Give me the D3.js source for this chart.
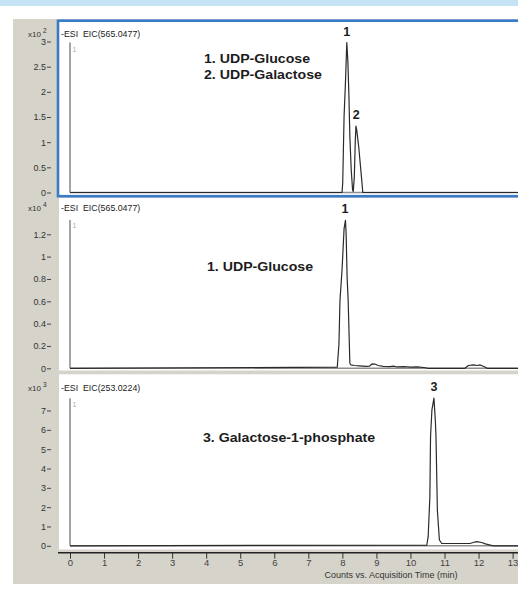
<!DOCTYPE html>
<html>
<head>
<meta charset="utf-8">
<script src="https://cdn.jsdelivr.net/npm/d3@7"></script>
<style>
  body { margin: 0; background: #fff; }
  svg { display: block; font-family: "Liberation Sans", Arial, sans-serif; }
</style>
</head>
<body>
<div id="chart"></div>
<script>
// acquisition time axis
var timeTicks = [0, 1, 2, 3, 4, 5, 6, 7, 8, 9, 10, 11, 12, 13];

// EIC 565.0477, standard mix (x10^2 counts)
var mixTime   = [0, 7.99, 8.01, 8.05, 8.09, 8.13, 8.16, 8.19, 8.22, 8.26, 8.30, 8.32, 8.35, 8.38, 8.40, 8.42, 8.48, 8.55, 8.60, 13.5];
var mixCounts = [0, 0, 0.19, 1.51, 2.17, 2.98, 2.63, 1.98, 1.11, 0.45, 0.05, 0.02, 0.30, 1.04, 1.32, 1.25, 0.91, 0.39, 0, 0];

// EIC 565.0477, sample (x10^4 counts)
var glcTime   = [0, 7.85, 7.90, 7.93, 7.99, 8.05, 8.09, 8.11, 8.14, 8.17, 8.22, 8.25, 8.35, 8.5, 8.7, 8.8, 8.88, 8.95, 9.05, 9.2, 9.4, 9.5, 9.6, 9.8, 10.0, 10.2, 10.45, 10.5, 11.6, 11.7, 11.85, 11.95, 12.05, 12.2, 12.25, 13.5];
var glcCounts = [0, 0.01, 0.22, 0.61, 0.88, 1.25, 1.325, 1.21, 0.81, 0.61, 0.045, 0.03, 0.025, 0.022, 0.018, 0.02, 0.04, 0.038, 0.025, 0.018, 0.015, 0.02, 0.012, 0.015, 0.01, 0.012, 0.005, 0, 0, 0.025, 0.03, 0.025, 0.03, 0.01, 0, 0];

// EIC 253.0224 (x10^3 counts)
var galTime   = [0, 10.48, 10.52, 10.57, 10.59, 10.63, 10.69, 10.73, 10.75, 10.79, 10.85, 10.92, 11.75, 11.84, 11.95, 12.09, 12.2, 12.43, 13.5];
var galCounts = [0, 0.04, 0.47, 2.54, 5.65, 7.03, 7.64, 6.51, 5.65, 1.85, 0.30, 0.12, 0.12, 0.17, 0.22, 0.17, 0.10, 0, 0];

var width = 518, height = 602;

var svg = d3.select("#chart").append("svg")
    .attr("width", width)
    .attr("height", height);

// window chrome
svg.append("rect").attr("x", 0).attr("y", 0).attr("width", width).attr("height", 6).attr("fill", "#c6e2f5");
svg.append("rect").attr("x", 13).attr("y", 19).attr("width", width - 13).attr("height", 565).attr("fill", "#d6d3cb");

var x = d3.scaleLinear().domain([0, 13]).range([70, 512.6]);

var panels = [
  { top: 20.7, bottom: 196.2, exp: "2", eic: "-ESI  EIC(565.0477)", yTop: 41.5, yBottom: 192.5, max: 3, ticks: [0, 0.5, 1, 1.5, 2, 2.5, 3], axisTop: 42.5,
    time: mixTime, counts: mixCounts, header: 36.5, marker: 52,
    names: ["1. UDP-Glucose", "2. UDP-Galactose"], nameX: 204, nameY: [62.5, 79.3],
    peaks: [{ t: 8.13, v: 2.98, label: "1" }, { t: 8.405, v: 1.32, label: "2" }] },
  { top: 198, bottom: 370.5, exp: "4", eic: "-ESI  EIC(565.0477)", yTop: 234.3, yBottom: 368.3, max: 1.2, ticks: [0, 0.2, 0.4, 0.6, 0.8, 1, 1.2], axisTop: 220,
    time: glcTime, counts: glcCounts, header: 210.7, marker: 228,
    names: ["1. UDP-Glucose"], nameX: 207, nameY: [270.7],
    peaks: [{ t: 8.08, v: 1.325, label: "1" }] },
  { top: 374.3, bottom: 549.5, exp: "3", eic: "-ESI  EIC(253.0224)", yTop: 410.5, yBottom: 545.8, max: 7, ticks: [0, 1, 2, 3, 4, 5, 6, 7], axisTop: 398.3,
    time: galTime, counts: galCounts, header: 390.7, marker: 406.5,
    names: ["3. Galactose-1-phosphate"], nameX: 203, nameY: [441.7],
    peaks: [{ t: 10.69, v: 7.64, label: "3" }] }
];

panels.forEach(function(p, i) {
  var g = svg.append("g");

  if (i > 0) {
    g.append("rect").attr("x", 59).attr("y", p.top).attr("width", width - 59).attr("height", p.bottom - p.top).attr("fill", "#fff");
  } else {
    g.append("rect").attr("x", 58).attr("y", p.top).attr("width", width).attr("height", p.bottom - p.top)
      .attr("fill", "#fff").attr("stroke", "#3a7bc8").attr("stroke-width", 2.6);
  }

  var y = d3.scaleLinear().domain([0, p.max]).range([p.yBottom, p.yTop]);

  // axis frame lines inside the plot
  g.append("line").attr("x1", 70).attr("x2", width).attr("y1", y(0)).attr("y2", y(0))
    .attr("stroke", "#8e8e8e").attr("stroke-width", 1.6);
  g.append("line").attr("x1", 70).attr("x2", 70).attr("y1", p.axisTop).attr("y2", y(0))
    .attr("stroke", "#8e8e8e").attr("stroke-width", 1.6);

  var yAxis = g.append("g")
    .attr("transform", "translate(51,0)")
    .call(d3.axisLeft(y).tickValues(p.ticks).tickSize(4).tickPadding(1)
      .tickFormat(function(d) { return d3.format("")(d); }));
  yAxis.select(".domain").remove();
  yAxis.selectAll("line").attr("stroke", "#444");
  yAxis.selectAll("text").attr("font-size", 9).attr("fill", "#333")
    .attr("font-family", "'Liberation Sans', Arial, sans-serif");

  // header labels
  var mult = g.append("text").attr("x", 28).attr("y", p.header).attr("font-size", 8).attr("fill", "#333");
  mult.append("tspan").text("x10");
  mult.append("tspan").attr("dx", 2).attr("dy", -3.5).attr("font-size", 6.5).text(p.exp);
  g.append("text").attr("x", 61).attr("y", p.header).attr("font-size", 8.8).attr("fill", "#222")
    .style("white-space", "pre").attr("xml:space", "preserve").text(p.eic);
  g.append("text").attr("x", 72.5).attr("y", p.marker).attr("font-size", 7).attr("fill", "#aaa").text("1");

  // trace
  var clipId = "clip" + i;
  svg.append("clipPath").attr("id", clipId).append("rect")
    .attr("x", 60).attr("y", p.top - 30).attr("width", width).attr("height", p.bottom - p.top + 30);

  var pts = p.time.map(function(t, k) { return [t, p.counts[k]]; });
  g.append("path")
    .datum(pts)
    .attr("clip-path", "url(#" + clipId + ")")
    .attr("fill", "none")
    .attr("stroke", "#2a2a2a")
    .attr("stroke-width", 1.2)
    .attr("stroke-linejoin", "round")
    .attr("d", d3.line()
      .x(function(d) { return x(d[0]); })
      .y(function(d) { return y(d[1]); }));

  // peak numbers
  p.peaks.forEach(function(pk) {
    g.append("text").attr("x", x(pk.t)).attr("y", y(pk.v) - 7)
      .attr("text-anchor", "middle").attr("font-size", 12.5).attr("font-weight", "bold").attr("fill", "#1c1c1c")
      .text(pk.label);
  });

  // compound names
  p.names.forEach(function(n, k) {
    g.append("g").attr("transform", "translate(" + p.nameX + "," + p.nameY[k] + ") scale(1.18,1)")
      .append("text").attr("font-size", 12).attr("font-weight", "bold").attr("fill", "#1c1c1c").text(n);
  });
});

// shared time axis
var xAxis = svg.append("g")
  .attr("transform", "translate(0,552.7)")
  .call(d3.axisBottom(x).tickValues(timeTicks).tickSize(6).tickPadding(1).tickFormat(d3.format("d")));
xAxis.select(".domain").remove();
xAxis.selectAll("line").attr("stroke", "#333");
xAxis.selectAll("text").attr("font-size", 9.5).attr("fill", "#444")
  .attr("font-family", "'Liberation Sans', Arial, sans-serif");
svg.append("line").attr("x1", 58).attr("x2", width).attr("y1", 552.7).attr("y2", 552.7)
  .attr("stroke", "#222").attr("stroke-width", 1.5);

svg.append("text")
  .attr("x", 391).attr("y", 577.5)
  .attr("text-anchor", "middle")
  .attr("font-size", 9)
  .attr("fill", "#333")
  .text("Counts vs. Acquisition Time (min)");
</script>
</body>
</html>
